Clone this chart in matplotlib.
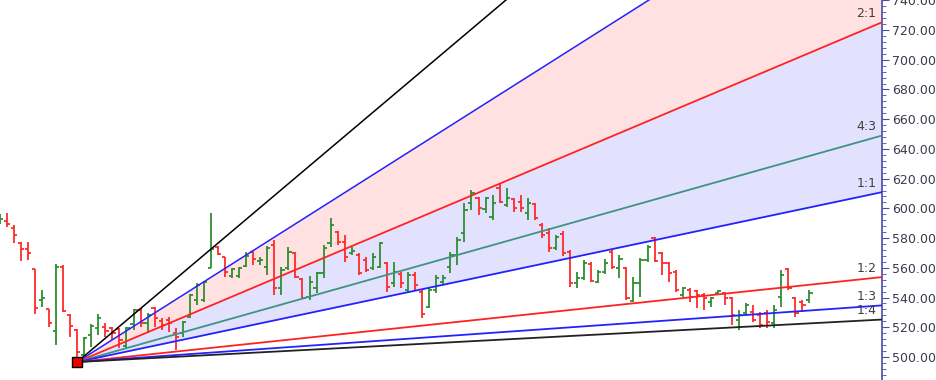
import matplotlib
matplotlib.use("Agg")
import matplotlib.pyplot as plt
import numpy as np
from matplotlib.ticker import MultipleLocator, FormatStrFormatter

# OHLC bars, one per period
opens = [590.8, 591.5, 586.8, 576.7, 572.6, 559.2, 538.3, 532.2, 517.4, 560.5,
         528.2, 518.1, 501.3, 514.7, 519.5, 520.1, 519.5, 518.8, 507.3, 522.1,
         531.6, 522.8, 532.9, 524.2, 524.8, 516.1, 516.1, 526.9, 538.3, 538.3,
         559.8, 574.0, 567.2, 554.5, 554.5, 561.2, 570.6, 564.6, 560.5, 575.3,
         546.4, 559.8, 569.9, 552.4, 540.3, 546.4, 556.5, 576.7, 584.1, 577.3,
         569.9, 568.6, 565.2, 559.8, 560.5, 563.2, 549.7, 555.8, 545.0, 555.1,
         543.7, 533.6, 545.0, 550.4, 560.5, 568.6, 583.4, 603.6, 607.0, 599.5,
         594.2, 613.7, 602.2, 606.3, 604.3, 596.9, 602.9, 588.8, 583.4, 573.3,
         582.7, 570.6, 549.7, 553.1, 562.5, 550.4, 557.2, 570.6, 559.8, 559.8,
         537.6, 549.7, 565.2, 580.0, 569.9, 563.2, 557.2, 541.7, 545.0, 544.4,
         541.7, 536.9, 543.0, 543.0, 539.6, 524.8, 529.6, 530.2, 528.2, 529.6,
         522.8, 540.3, 559.2, 539.6, 536.9, 538.3]
highs = [596.2, 596.9, 588.8, 577.3, 577.3, 559.2, 545.0, 532.2, 562.5, 561.9,
         528.9, 518.8, 513.4, 522.1, 528.9, 522.8, 520.1, 519.5, 520.1, 532.2,
         532.9, 529.6, 533.6, 526.2, 526.9, 519.5, 524.2, 542.3, 549.7, 551.1,
         596.9, 574.6, 567.2, 559.8, 560.5, 570.6, 572.0, 567.2, 574.6, 578.7,
         560.5, 574.0, 570.6, 553.1, 554.5, 557.2, 575.3, 593.5, 584.7, 582.0,
         574.0, 569.9, 567.2, 569.9, 577.3, 563.9, 563.9, 557.2, 557.2, 557.2,
         545.0, 547.0, 555.1, 555.1, 570.6, 580.7, 603.6, 612.3, 607.6, 607.6,
         609.0, 617.0, 613.7, 607.0, 609.0, 607.0, 603.6, 590.1, 586.8, 582.0,
         584.7, 572.0, 557.2, 565.2, 563.9, 558.5, 565.9, 572.6, 568.6, 560.5,
         553.8, 566.6, 575.3, 580.7, 570.6, 563.9, 558.5, 547.0, 546.4, 545.0,
         543.0, 540.3, 545.0, 543.7, 540.3, 531.6, 536.3, 534.9, 530.2, 531.6,
         534.9, 558.5, 559.8, 540.3, 538.3, 545.0]
lows = [589.4, 587.4, 576.7, 564.6, 565.2, 528.9, 533.6, 520.1, 508.0, 530.2,
        513.4, 496.6, 499.9, 506.7, 514.7, 513.4, 511.4, 506.0, 506.0, 518.1,
        520.1, 516.1, 520.1, 518.1, 516.8, 504.7, 513.4, 526.2, 534.9, 536.9,
        559.8, 568.6, 553.8, 553.1, 553.1, 560.5, 561.9, 561.9, 555.1, 541.7,
        541.7, 558.5, 553.1, 539.0, 538.3, 543.0, 553.1, 574.0, 575.3, 563.9,
        568.6, 555.1, 557.2, 558.5, 559.8, 543.7, 547.0, 546.4, 543.0, 545.0,
        526.2, 532.9, 543.0, 548.4, 556.5, 561.9, 577.3, 598.9, 595.5, 596.9,
        592.1, 603.6, 600.9, 597.5, 597.5, 592.1, 592.1, 580.0, 570.6, 572.0,
        567.9, 547.0, 546.4, 551.8, 550.4, 549.7, 555.8, 559.2, 553.1, 538.3,
        536.9, 540.3, 563.9, 563.9, 555.1, 550.4, 543.7, 540.3, 536.9, 532.9,
        531.6, 533.6, 541.7, 534.9, 521.5, 518.1, 528.2, 523.5, 519.5, 519.5,
        519.5, 533.6, 545.0, 526.9, 530.2, 536.3]
closes = [592.8, 589.4, 582.0, 572.6, 569.9, 532.9, 539.6, 522.8, 560.5, 530.9,
          520.8, 503.3, 512.7, 520.8, 526.2, 517.4, 516.1, 511.4, 519.5, 531.6,
          522.8, 528.2, 526.2, 521.5, 522.8, 513.4, 523.5, 541.7, 548.4, 550.4,
          572.6, 569.3, 557.2, 559.2, 559.8, 567.9, 565.9, 565.2, 573.3, 546.4,
          558.5, 570.6, 553.8, 539.6, 550.4, 556.5, 573.3, 588.8, 577.3, 567.2,
          571.3, 556.5, 558.5, 567.2, 576.7, 547.0, 557.2, 549.7, 555.1, 548.4,
          528.9, 545.0, 553.1, 553.1, 568.6, 578.7, 598.9, 610.3, 600.3, 607.0,
          603.6, 604.3, 607.0, 600.3, 600.3, 603.6, 593.5, 582.0, 573.3, 580.7,
          569.9, 549.7, 553.1, 563.2, 551.1, 557.2, 563.2, 560.5, 565.9, 539.6,
          549.7, 565.2, 574.0, 564.6, 563.2, 556.5, 545.0, 546.4, 540.3, 541.7,
          539.6, 539.6, 544.4, 539.6, 528.2, 528.2, 534.9, 524.8, 521.5, 523.5,
          531.6, 555.1, 546.4, 529.6, 534.9, 543.0]

# Gann fan anchored at the swing low
origin_bar = 11
origin_price = 496.6
fan_names = ["4:1", "3:1", "2:1", "4:3", "1:1", "1:2", "1:3", "1:4"]
fan_slopes = [4, 3, 2, 4 / 3, 1, 1 / 2, 1 / 3, 1 / 4]
fan_colors = ["black", "#2222ff", "#ff2222", "#3f9383", "#2222ff", "#ff2222", "#2222ff", "#222222"]
show_label = [False, False, True, True, True, True, True, True]

UP = "#2f8f2f"
DOWN = "#ff2a2a"

fig = plt.figure(figsize=(9.36, 3.8), dpi=100)
ax = fig.add_axes([0, 0, 882 / 936, 1])

xmin, xmax = 0.04, 125.3
x = np.arange(len(opens))
cols = [UP if c >= o else DOWN for o, c in zip(opens, closes)]
ax.vlines(x, lows, highs, colors=cols, lw=1.3, zorder=2)
ax.hlines(opens, x - 0.45, x, colors=cols, lw=1.3, zorder=2)
ax.hlines(closes, x, x + 0.45, colors=cols, lw=1.3, zorder=2)

xs = np.array([origin_bar, xmax])


def fan(r):
    return origin_price + r * (xs - origin_bar)


ax.fill_between(xs, fan(2), fan(3), color="#ffe1e1", lw=0, zorder=0)
ax.fill_between(xs, fan(1), fan(2), color="#e2e2ff", lw=0, zorder=0)

for name, r, c, lab in zip(fan_names, fan_slopes, fan_colors, show_label):
    ax.plot(xs, fan(r), color=c, lw=1.1 if r > 2 else 1.3, zorder=3)
    if lab:
        ax.text(xmax - 0.8, fan(r)[-1] + 6, name, ha="right", va="center",
                fontsize=9, color="#404040", zorder=4)

ax.plot(origin_bar, origin_price, "s", color="#ee0000", mec="black", mew=1,
        ms=6.5, zorder=5, clip_on=False)

ax.set_xlim(xmin, xmax)
ax.set_ylim(484.5, 740.2)
for s in ["left", "top", "bottom"]:
    ax.spines[s].set_visible(False)
ax.spines["right"].set_color("#4a4aa8")
ax.spines["right"].set_linewidth(1.2)
ax.set_xticks([])
ax.yaxis.tick_right()
ax.yaxis.set_major_locator(MultipleLocator(20))
ax.yaxis.set_minor_locator(MultipleLocator(4))
ax.yaxis.set_major_formatter(FormatStrFormatter("%.2f"))
ax.tick_params(axis="y", which="major", length=5, color="#4a4aa8",
               labelcolor="#3a3a4a", labelsize=9, pad=2)
ax.tick_params(axis="y", which="minor", length=3, color="#4a4aa8")

fig.savefig("out.png", dpi=100)
